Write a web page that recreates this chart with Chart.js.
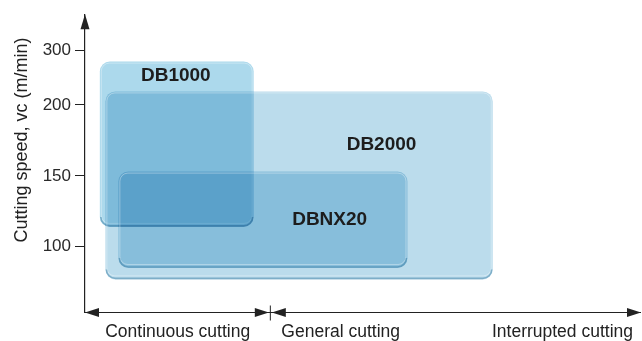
<!DOCTYPE html>
<html>
<head>
<meta charset="utf-8">
<script src="https://cdn.jsdelivr.net/npm/chart.js@4"></script>
<style>
  html, body { margin: 0; padding: 0; background: #fff; }
  #wrap { width: 642px; height: 341px; }
</style>
</head>
<body>
<div id="wrap"><canvas id="chart"></canvas></div>
<script>
// application range of each grade
const grades = ["DB1000", "DB2000", "DBNX20"];
const xFrom = [0.08, 0.11, 0.18];
const xTo = [0.91, 2.2, 1.74];
const speedLow = [114, 77, 85];
const speedHigh = [280, 225, 153];
// where the grade name sits (x position, speed)
const nameX = [0.49, 1.6, 1.32];
const nameSpeed = [253, 172, 119];

const speedTicks = [100, 150, 200, 300];
const cuttingTypes = ["Continuous cutting", "General cutting", "Interrupted cutting"];
// the x axis is split in two arrows: continuous | general .. interrupted
const arrowSpans = [[0, 1], [1, 3]];

const boxColors = ["rgb(172, 217, 236)", "rgb(187, 220, 236)", "rgb(184, 220, 237)"];

// the speed axis is squeezed above 200 m/min
const BREAK = 200;
const SQUEEZE = 0.382;
const toAxis = (v) => (v <= BREAK ? v : BREAK + (v - BREAK) * SQUEEZE);
const fromAxis = (t) => (t <= BREAK ? t : BREAK + (t - BREAK) / SQUEEZE);

const FONT = "'Liberation Sans', Arial, Helvetica, sans-serif";
const INK = "#222";

const arrowHead = (ctx, x, y, dir) => {
  // dir: "left" | "right" | "up"
  ctx.beginPath();
  if (dir === "up") {
    ctx.moveTo(x, y);
    ctx.lineTo(x - 4.5, y + 15);
    ctx.lineTo(x + 4.5, y + 15);
  } else {
    const s = dir === "left" ? 1 : -1;
    ctx.moveTo(x, y);
    ctx.lineTo(x + s * 14, y - 4.5);
    ctx.lineTo(x + s * 14, y + 4.5);
  }
  ctx.closePath();
  ctx.fill();
};

const rangesPlugin = {
  id: "ranges",
  afterDraw(chart) {
    const { ctx, chartArea } = chart;
    const xs = chart.scales.x;
    const ys = chart.scales.y;
    const r = 10;

    // boxes
    grades.forEach((g, i) => {
      const x0 = xs.getPixelForValue(xFrom[i]);
      const x1 = xs.getPixelForValue(xTo[i]);
      const yt = ys.getPixelForValue(toAxis(speedHigh[i]));
      const yb = ys.getPixelForValue(toAxis(speedLow[i]));

      ctx.save();
      ctx.globalCompositeOperation = "multiply";
      ctx.fillStyle = boxColors[i];
      ctx.beginPath();
      ctx.roundRect(x0, yt, x1 - x0, yb - yt, r);
      ctx.fill();
      ctx.restore();

      // light rim
      ctx.save();
      ctx.strokeStyle = "rgba(255, 255, 255, 0.35)";
      ctx.lineWidth = 1;
      ctx.beginPath();
      ctx.roundRect(x0 + 1.5, yt + 1.5, x1 - x0 - 3, yb - yt - 5, r - 2);
      ctx.stroke();

      // darker bottom edge
      ctx.strokeStyle = "rgba(40, 110, 150, 0.42)";
      ctx.lineWidth = 1.6;
      ctx.beginPath();
      ctx.moveTo(x0 + 1, yb - r);
      ctx.arcTo(x0 + 1, yb - 1, x0 + r, yb - 1, r - 1);
      ctx.lineTo(x1 - r, yb - 1);
      ctx.arcTo(x1 - 1, yb - 1, x1 - 1, yb - r, r - 1);
      ctx.stroke();
      ctx.restore();
    });

    // grade names
    ctx.save();
    ctx.fillStyle = "#1d1d1d";
    ctx.font = "bold 19px " + FONT;
    ctx.textAlign = "center";
    ctx.textBaseline = "middle";
    grades.forEach((g, i) => {
      ctx.fillText(g, xs.getPixelForValue(nameX[i]), ys.getPixelForValue(toAxis(nameSpeed[i])));
    });
    ctx.restore();

    // axes
    ctx.save();
    ctx.fillStyle = INK;
    ctx.strokeStyle = INK;
    ctx.lineWidth = 1.2;
    arrowHead(ctx, chartArea.left, chartArea.top, "up");

    const yAxis = chartArea.bottom + 0.5;
    ctx.beginPath();
    ctx.moveTo(chartArea.left, yAxis);
    ctx.lineTo(chartArea.right, yAxis);
    ctx.stroke();
    arrowSpans.forEach(([a, b]) => {
      arrowHead(ctx, xs.getPixelForValue(a) + (a > 0 ? 1.5 : 0), yAxis, "left");
      arrowHead(ctx, xs.getPixelForValue(b) - (b < 3 ? 1.5 : 0), yAxis, "right");
    });
    const xDiv = xs.getPixelForValue(1);
    ctx.lineWidth = 1;
    ctx.beginPath();
    ctx.moveTo(xDiv, yAxis - 7);
    ctx.lineTo(xDiv, yAxis + 8);
    ctx.stroke();

    // x labels
    ctx.font = "17.5px " + FONT;
    ctx.textBaseline = "middle";
    const yLab = 332;
    ctx.textAlign = "center";
    ctx.fillText(cuttingTypes[0], xs.getPixelForValue(0.5), yLab);
    ctx.textAlign = "left";
    ctx.fillText(cuttingTypes[1], xDiv + 11, yLab);
    ctx.textAlign = "right";
    ctx.fillText(cuttingTypes[2], xs.getPixelForValue(3) - 8, yLab);

    // y title
    ctx.translate(22, 140);
    ctx.rotate(-Math.PI / 2);
    ctx.textAlign = "center";
    ctx.font = "18px " + FONT;
    ctx.fillText("Cutting speed, vc (m/min)", 0, 0);
    ctx.restore();
  },
};

new Chart(document.getElementById("chart"), {
  type: "scatter",
  data: { datasets: [] },
  options: {
    responsive: true,
    maintainAspectRatio: false,
    animation: false,
    layout: { padding: { left: 10, top: 10, right: 1, bottom: 29 } },
    plugins: {
      legend: { display: false },
      tooltip: { enabled: false },
    },
    scales: {
      x: { type: "linear", min: 0, max: 3, display: false },
      y: {
        type: "linear",
        min: 54,
        max: 264,
        afterBuildTicks: (scale) => {
          scale.ticks = speedTicks.map((v) => ({ value: toAxis(v) }));
        },
        afterFit: (scale) => {
          scale.width = 75;
        },
        border: { display: true, color: INK, width: 1.2 },
        grid: { drawOnChartArea: false, drawTicks: true, tickLength: 10, color: INK },
        ticks: {
          autoSkip: false,
          padding: 4,
          color: "#2a2a2a",
          font: { family: FONT, size: 17 },
          callback: (val) => Math.round(fromAxis(val)),
        },
      },
    },
  },
  plugins: [rangesPlugin],
});
</script>
</body>
</html>
